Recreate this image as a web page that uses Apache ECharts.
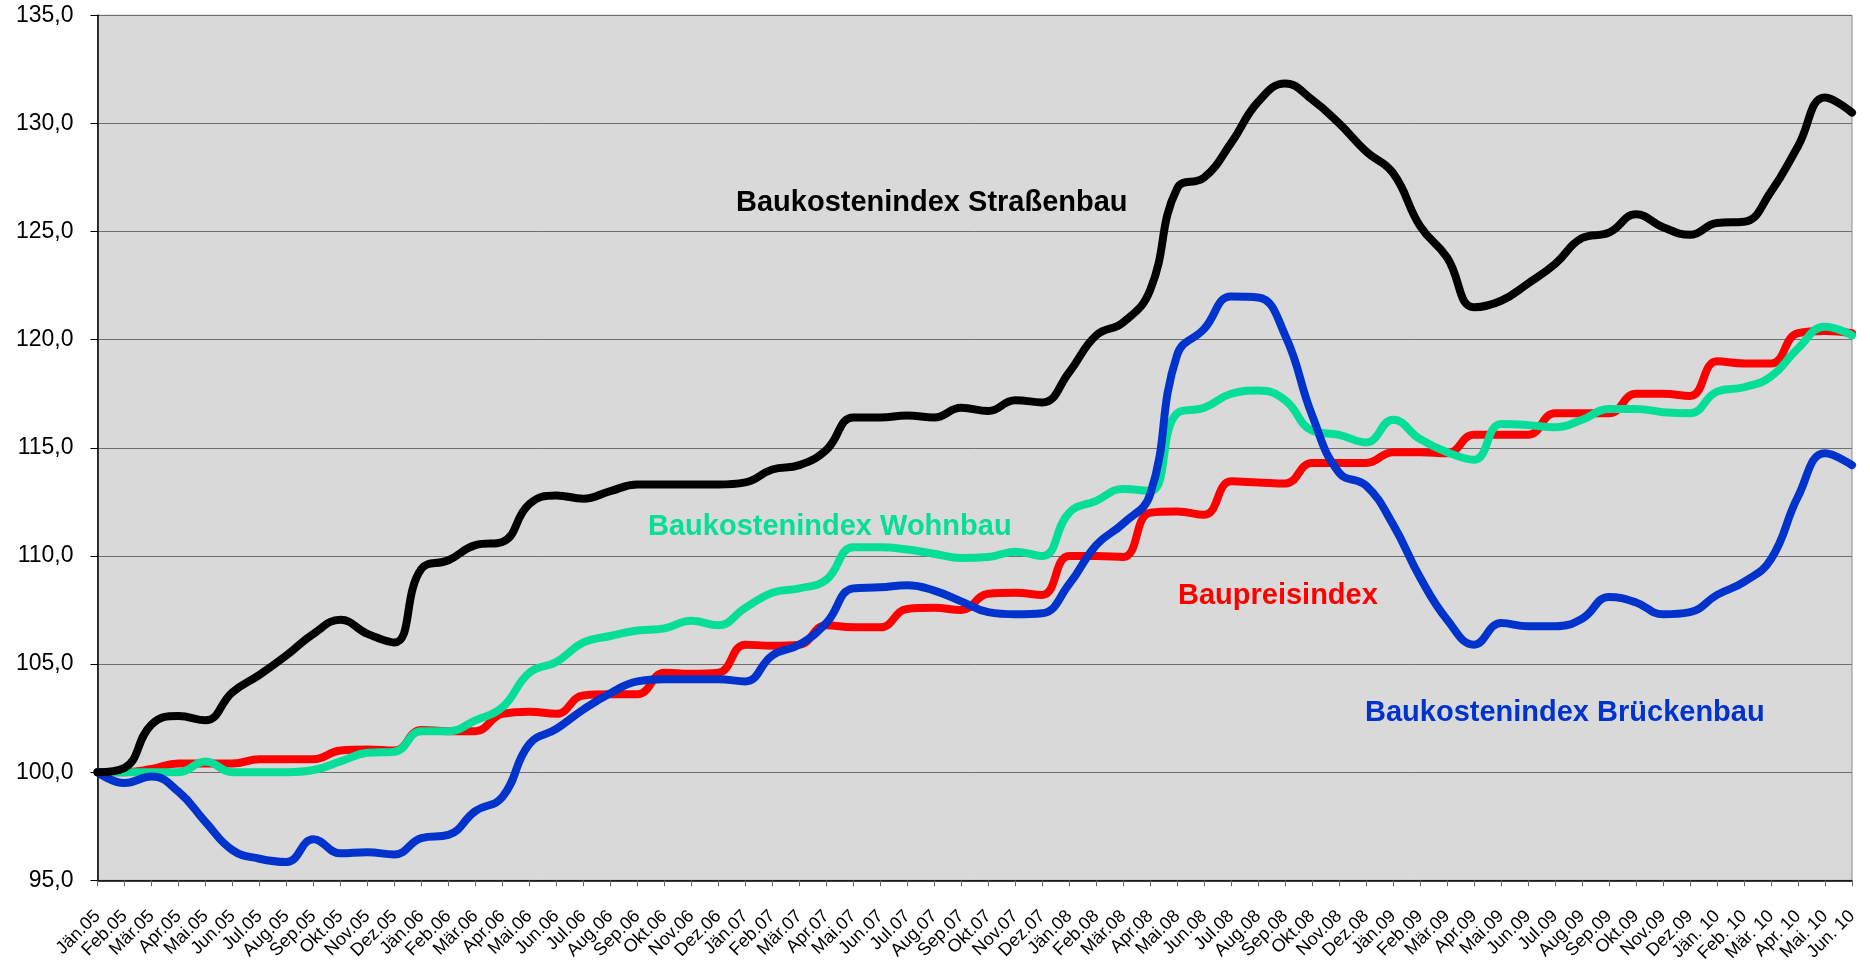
<!DOCTYPE html>
<html>
<head>
<meta charset="utf-8">
<script src="https://cdn.jsdelivr.net/npm/echarts@6/dist/echarts.min.js"></script>
<style>
html,body{margin:0;padding:0;background:#fff;}
#chart{width:1870px;height:965px;}
</style>
</head>
<body>
<div id="chart"></div>
<script>
var categories = [
 'Jän.05','Feb.05','Mär.05','Apr.05','Mai.05','Jun.05','Jul.05','Aug.05','Sep.05','Okt.05','Nov.05','Dez.05',
 'Jän.06','Feb.06','Mär.06','Apr.06','Mai.06','Jun.06','Jul.06','Aug.06','Sep.06','Okt.06','Nov.06','Dez.06',
 'Jän.07','Feb.07','Mär.07','Apr.07','Mai.07','Jun.07','Jul.07','Aug.07','Sep.07','Okt.07','Nov.07','Dez.07',
 'Jän.08','Feb.08','Mär.08','Apr.08','Mai.08','Jun.08','Jul.08','Aug.08','Sep.08','Okt.08','Nov.08','Dez.08',
 'Jän.09','Feb.09','Mär.09','Apr.09','Mai.09','Jun.09','Jul.09','Aug.09','Sep.09','Okt.09','Nov.09','Dez.09',
 'Jän. 10','Feb. 10','Mär. 10','Apr. 10','Mai. 10','Jun. 10'
];

var strassenbau = [
 100.0,100.2,102.2,102.6,102.4,103.7,104.5,105.4,106.4,107.05,106.4,106.0,
 109.4,109.8,110.5,110.65,112.4,112.8,112.65,113.0,113.3,113.3,113.3,113.3,
 113.4,114.0,114.2,114.9,116.4,116.4,116.5,116.4,116.85,116.7,117.2,117.1,
 118.5,120.2,120.8,122.3,127.0,127.5,129.1,131.0,131.85,131.1,130.0,128.7,
 127.7,125.25,123.8,121.5,121.8,122.6,123.5,124.7,124.95,125.8,125.2,124.85,
 125.4,125.45,126.85,128.95,131.2,130.5
];

var wohnbau = [
 100.0,100.0,100.0,100.0,100.5,100.0,100.0,100.0,100.1,100.5,100.9,100.95,
 101.9,101.9,102.4,103.0,104.6,105.1,106.0,106.3,106.55,106.65,107.0,106.8,
 107.6,108.3,108.5,108.9,110.4,110.4,110.3,110.1,109.9,109.95,110.2,110.0,
 112.0,112.55,113.1,113.0,116.6,116.85,117.5,117.65,117.2,115.8,115.6,115.25,
 116.3,115.4,114.8,114.45,116.1,116.05,115.95,116.3,116.8,116.8,116.65,116.6,
 117.6,117.8,118.3,119.6,120.6,120.2
];

var baupreis = [
 100.0,100.0,100.15,100.4,100.4,100.4,100.6,100.6,100.6,101.0,101.05,101.0,
 101.95,101.9,101.9,102.7,102.8,102.7,103.55,103.6,103.6,104.6,104.55,104.6,
 105.9,105.85,105.9,106.8,106.7,106.7,107.55,107.6,107.5,108.25,108.3,108.2,
 110.0,110.0,109.95,112.0,112.05,111.9,113.45,113.4,113.35,114.3,114.3,114.3,
 114.8,114.8,114.75,115.6,115.6,115.6,116.6,116.6,116.6,117.5,117.5,117.4,
 119.0,118.9,118.9,120.3,120.4,120.3
];

var brueckenbau = [
 100.0,99.5,99.8,99.1,97.7,96.4,96.0,95.85,96.9,96.25,96.3,96.2,
 96.95,97.1,98.2,98.85,101.3,102.0,102.9,103.65,104.2,104.3,104.3,104.3,
 104.2,105.4,105.9,106.9,108.5,108.55,108.65,108.4,107.9,107.4,107.3,107.35,
 108.7,110.5,111.5,112.85,119.3,120.5,122.0,121.95,120.2,116.5,113.85,113.25,
 111.45,109.0,107.05,105.9,106.9,106.75,106.75,107.1,108.1,107.85,107.3,107.4,
 108.2,108.8,109.85,112.75,114.75,114.2
];

var seriesNames = ['Baupreisindex','Baukostenindex Wohnbau','Baukostenindex Brückenbau','Baukostenindex Straßenbau'];
var seriesColors = ['#FF0000','#05DE98','#0033CC','#000000'];
var seriesData = [baupreis, wohnbau, brueckenbau, strassenbau];

var FONT = '"Liberation Sans", Arial, sans-serif';

var chart = echarts.init(document.getElementById('chart'), null, {renderer:'canvas'});

var series = seriesData.map(function(d, k){
  return {
    name: seriesNames[k],
    type: 'line',
    data: d,
    smooth: 0.45,
    symbol: 'none',
    lineStyle: {color: seriesColors[k], width: 8, cap: 'round', join: 'round'},
    z: 2 + k,
    animation: false
  };
});

var labelStyle = function(text, color, left, top){
  return {
    type: 'text', left: left, top: top, z: 100,
    style: {text: text, fill: color, font: 'bold 29px ' + FONT, textVerticalAlign: 'top'}
  };
};

chart.setOption({
  backgroundColor: '#ffffff',
  animation: false,
  grid: {
    left: 97.5, right: 18, top: 15.3, bottom: 80,
    show: true, backgroundColor: '#D9D9D9', borderColor: '#8c8c8c', borderWidth: 1
  },
  xAxis: {
    type: 'category',
    data: categories,
    boundaryGap: false,
    axisLine: {show: true, lineStyle: {color: '#000', width: 1.5}},
    axisTick: {show: true, interval: 0, length: 6, lineStyle: {color: '#666'}},
    axisLabel: {
      interval: 0, rotate: 45, margin: 33,
      color: '#000', fontSize: 18, fontFamily: FONT
    },
    splitLine: {show: false}
  },
  yAxis: {
    type: 'value',
    min: 95, max: 135, interval: 5,
    axisLine: {show: true, lineStyle: {color: '#000', width: 1.5}},
    axisTick: {show: true, length: 7, lineStyle: {color: '#000'}},
    axisLabel: {
      margin: 24, color: '#000', fontSize: 23, fontFamily: FONT,
      formatter: function(v){ return v.toFixed(1).replace('.', ','); }
    },
    splitLine: {show: true, lineStyle: {color: '#6e6e6e', width: 1}}
  },
  series: series,
  graphic: [
    labelStyle('Baukostenindex Straßenbau', '#000000', 736, 188),
    labelStyle('Baukostenindex Wohnbau', '#05DE98', 648, 512),
    labelStyle('Baupreisindex', '#FF0000', 1178, 581),
    labelStyle('Baukostenindex Brückenbau', '#0033CC', 1365, 698)
  ]
});
</script>
</body>
</html>
